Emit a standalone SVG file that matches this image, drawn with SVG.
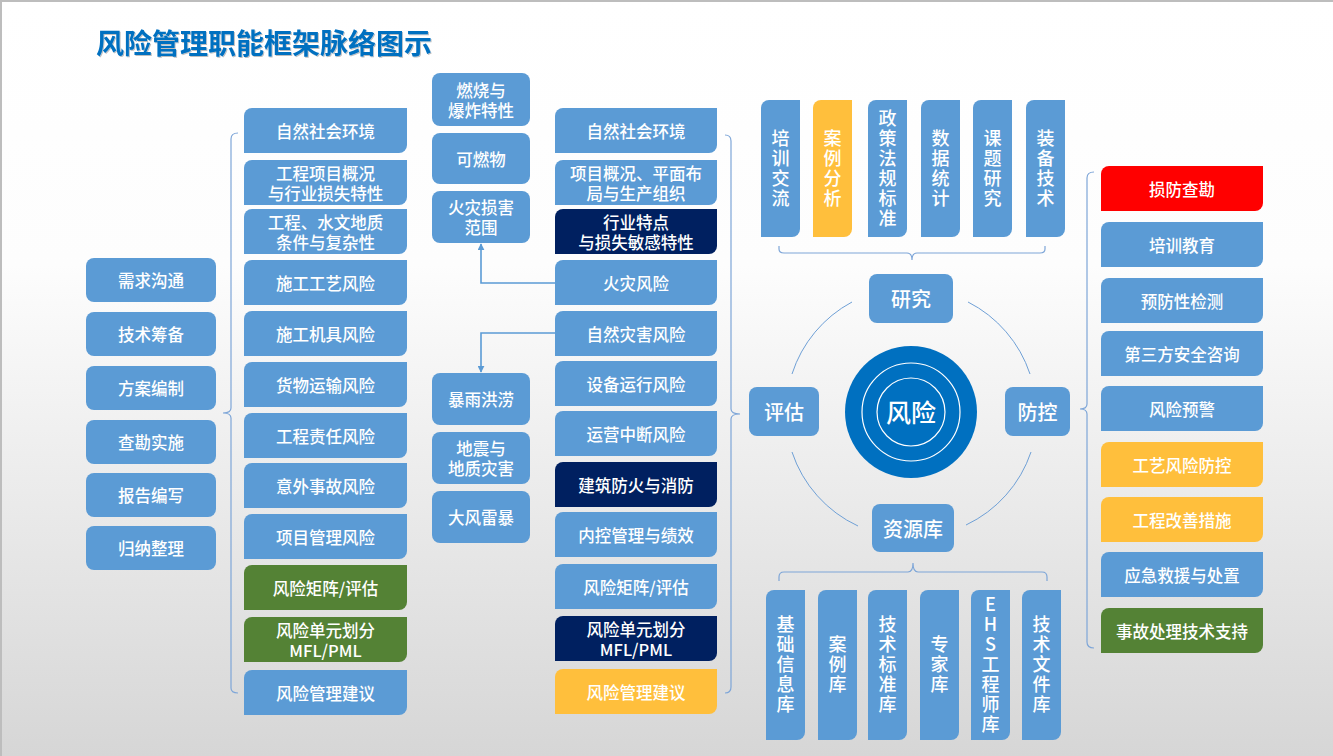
<svg xmlns="http://www.w3.org/2000/svg" width="1333" height="756" viewBox="0 0 1333 756">
<defs>
<linearGradient id="bg" x1="0" y1="0" x2="0" y2="1">
<stop offset="0" stop-color="#ffffff"/>
<stop offset="0.35" stop-color="#fdfdfd"/>
<stop offset="1" stop-color="#d6d6d6"/>
</linearGradient>
<marker id="ah" viewBox="0 0 10 10" refX="9" refY="5" markerWidth="7" markerHeight="7" orient="auto" markerUnits="userSpaceOnUse">
<path d="M0,0 L10,5 L0,10 Z" fill="#5B9BD5"/>
</marker>
<filter id="sh" x="-5%" y="-20%" width="110%" height="140%">
<feDropShadow dx="1" dy="1" stdDeviation="0.6" flood-color="#000" flood-opacity="0.25"/>
</filter>
</defs>
<style>
.b{fill:#5B9BD5}.n{fill:#002060}.g{fill:#548235}.y{fill:#FFBF3C}.r{fill:#FF0000}.c{fill:#0070C0}
.t{font-family:"Noto Sans CJK SC","Noto Sans",sans-serif;font-size:16.5px;fill:#ffffff;text-anchor:middle;dominant-baseline:central;font-weight:500}
.v{font-size:18px;writing-mode:vertical-rl;text-orientation:upright;letter-spacing:2px}
.m{font-size:20px}
.big{font-size:25px}
.br{fill:none;stroke:#7EA6D8;stroke-width:1.2}
.ar{fill:none;stroke:#6FA0D6;stroke-width:1}
.cn{fill:none;stroke:#5B9BD5;stroke-width:1.6}
</style>
<rect x="0" y="0" width="1333" height="756" fill="url(#bg)"/>
<path d="M0,1 H1333 M1,0 V756" stroke="#bdbdbd" stroke-width="2" fill="none"/>
<text x="96" y="54" font-family="Noto Sans CJK SC,sans-serif" font-size="28" font-weight="bold" fill="#0070C0" filter="url(#sh)">风险管理职能框架脉络图示</text>

<g id="connectors">
<path class="br" d="M238,133 Q231,133 231,139 V408 Q231,413 223,413 Q231,413 231,418 V688 Q231,693 238,693"/>
<path class="br" d="M725,135 Q731,135 731,141 V409 Q731,414 740,414 Q731,414 731,419 V687 Q731,693 725,693"/>
<path class="br" d="M1094,172 Q1087,172 1087,178 V404 Q1087,409 1080,409 Q1087,409 1087,414 V642 Q1087,648 1094,648"/>
<path class="br" d="M779,246 V249 Q779,253 784,253 H907 Q912,253 912,260 Q912,253 917,253 H1040 Q1045,253 1045,249 V246"/>
<path class="br" d="M779,581 V577 Q779,572 784,572 H908 Q913,572 913,563 Q913,572 918,572 H1042 Q1047,572 1047,577 V581"/>
<path class="cn" d="M555,283 H481 V244" marker-end="url(#ah)"/>
<path class="cn" d="M555,333 H481 V372" marker-end="url(#ah)"/>
<path class="ar" d="M852,302 A125,125 0 0 0 792,374"/>
<path class="ar" d="M968,302 A125,125 0 0 1 1030,374"/>
<path class="ar" d="M792,452 A125,125 0 0 0 858,526"/>
<path class="ar" d="M1031,452 A125,125 0 0 1 966,525"/>
</g>

<!-- column 1 -->
<g id="n-xqgt"><rect class="b" x="86" y="258" width="130" height="44" rx="8"/><text class="t" x="151" y="280">需求沟通</text></g>
<g id="n-jscb"><rect class="b" x="86" y="312" width="130" height="44" rx="8"/><text class="t" x="151" y="334">技术筹备</text></g>
<g id="n-fabz"><rect class="b" x="86" y="366" width="130" height="44" rx="8"/><text class="t" x="151" y="388">方案编制</text></g>
<g id="n-cksh"><rect class="b" x="86" y="420" width="130" height="44" rx="8"/><text class="t" x="151" y="442">查勘实施</text></g>
<g id="n-bgbx"><rect class="b" x="86" y="473" width="130" height="44" rx="8"/><text class="t" x="151" y="495">报告编写</text></g>
<g id="n-gnzl"><rect class="b" x="86" y="526" width="130" height="44" rx="8"/><text class="t" x="151" y="548">归纳整理</text></g>

<!-- column 2 -->
<g id="n-c2-1"><path class="b" d="M252,108 H407 V145 A8 8 0 0 1 399,153 H244 V116 A8 8 0 0 1 252,108 Z"/><text class="t" x="325.5" y="130.5">自然社会环境</text></g>
<g id="n-c2-2"><path class="b" d="M252,160 H407 V197 A8 8 0 0 1 399,205 H244 V168 A8 8 0 0 1 252,160 Z"/><text class="t" x="325.5" y="172.5">工程项目概况</text><text class="t" x="325.5" y="192.5">与行业损失特性</text></g>
<g id="n-c2-3"><path class="b" d="M252,209 H407 V246 A8 8 0 0 1 399,254 H244 V217 A8 8 0 0 1 252,209 Z"/><text class="t" x="325.5" y="221.5">工程、水文地质</text><text class="t" x="325.5" y="241.5">条件与复杂性</text></g>
<g id="n-c2-4"><path class="b" d="M252,260 H407 V297 A8 8 0 0 1 399,305 H244 V268 A8 8 0 0 1 252,260 Z"/><text class="t" x="325.5" y="282.5">施工工艺风险</text></g>
<g id="n-c2-5"><path class="b" d="M252,311 H407 V348 A8 8 0 0 1 399,356 H244 V319 A8 8 0 0 1 252,311 Z"/><text class="t" x="325.5" y="333.5">施工机具风险</text></g>
<g id="n-c2-6"><path class="b" d="M252,362 H407 V399 A8 8 0 0 1 399,407 H244 V370 A8 8 0 0 1 252,362 Z"/><text class="t" x="325.5" y="384.5">货物运输风险</text></g>
<g id="n-c2-7"><path class="b" d="M252,413 H407 V450 A8 8 0 0 1 399,458 H244 V421 A8 8 0 0 1 252,413 Z"/><text class="t" x="325.5" y="435.5">工程责任风险</text></g>
<g id="n-c2-8"><path class="b" d="M252,463 H407 V500 A8 8 0 0 1 399,508 H244 V471 A8 8 0 0 1 252,463 Z"/><text class="t" x="325.5" y="485.5">意外事故风险</text></g>
<g id="n-c2-9"><path class="b" d="M252,514 H407 V551 A8 8 0 0 1 399,559 H244 V522 A8 8 0 0 1 252,514 Z"/><text class="t" x="325.5" y="536.5">项目管理风险</text></g>
<g id="n-c2-10"><path class="g" d="M252,565 H407 V602 A8 8 0 0 1 399,610 H244 V573 A8 8 0 0 1 252,565 Z"/><text class="t" x="325.5" y="587.5">风险矩阵/评估</text></g>
<g id="n-c2-11"><path class="g" d="M252,617 H407 V654 A8 8 0 0 1 399,662 H244 V625 A8 8 0 0 1 252,617 Z"/><text class="t" x="325.5" y="629.5">风险单元划分</text><text class="t" x="325.5" y="649.5">MFL/PML</text></g>
<g id="n-c2-12"><path class="b" d="M252,670 H407 V707 A8 8 0 0 1 399,715 H244 V678 A8 8 0 0 1 252,670 Z"/><text class="t" x="325.5" y="692.5">风险管理建议</text></g>

<!-- column 3 -->
<g id="n-rsbz"><rect class="b" x="432" y="73" width="98" height="53" rx="8"/><text class="t" x="481" y="90">燃烧与</text><text class="t" x="481" y="110">爆炸特性</text></g>
<g id="n-krw"><rect class="b" x="432" y="133" width="98" height="51" rx="8"/><text class="t" x="481" y="158.5">可燃物</text></g>
<g id="n-hzsh"><rect class="b" x="432" y="191" width="98" height="52" rx="8"/><text class="t" x="481" y="207">火灾损害</text><text class="t" x="481" y="227">范围</text></g>
<g id="n-byhl"><rect class="b" x="432" y="373" width="98" height="52" rx="8"/><text class="t" x="481" y="399">暴雨洪涝</text></g>
<g id="n-dzdz"><rect class="b" x="432" y="432" width="98" height="52" rx="8"/><text class="t" x="481" y="448">地震与</text><text class="t" x="481" y="468">地质灾害</text></g>
<g id="n-dflb"><rect class="b" x="432" y="491" width="98" height="52" rx="8"/><text class="t" x="481" y="517">大风雷暴</text></g>

<!-- column 4 -->
<g id="n-c4-1"><path class="b" d="M563,108 H717 V145 A8 8 0 0 1 709,153 H555 V116 A8 8 0 0 1 563,108 Z"/><text class="t" x="636" y="130.5">自然社会环境</text></g>
<g id="n-c4-2"><path class="b" d="M563,160 H717 V197 A8 8 0 0 1 709,205 H555 V168 A8 8 0 0 1 563,160 Z"/><text class="t" x="636" y="172.5">项目概况、平面布</text><text class="t" x="636" y="192.5">局与生产组织</text></g>
<g id="n-c4-3"><path class="n" d="M563,209 H717 V246 A8 8 0 0 1 709,254 H555 V217 A8 8 0 0 1 563,209 Z"/><text class="t" x="636" y="221.5">行业特点</text><text class="t" x="636" y="241.5">与损失敏感特性</text></g>
<g id="n-c4-4"><path class="b" d="M563,260 H717 V297 A8 8 0 0 1 709,305 H555 V268 A8 8 0 0 1 563,260 Z"/><text class="t" x="636" y="282.5">火灾风险</text></g>
<g id="n-c4-5"><path class="b" d="M563,311 H717 V348 A8 8 0 0 1 709,356 H555 V319 A8 8 0 0 1 563,311 Z"/><text class="t" x="636" y="333.5">自然灾害风险</text></g>
<g id="n-c4-6"><path class="b" d="M563,361 H717 V398 A8 8 0 0 1 709,406 H555 V369 A8 8 0 0 1 563,361 Z"/><text class="t" x="636" y="383.5">设备运行风险</text></g>
<g id="n-c4-7"><path class="b" d="M563,411 H717 V448 A8 8 0 0 1 709,456 H555 V419 A8 8 0 0 1 563,411 Z"/><text class="t" x="636" y="433.5">运营中断风险</text></g>
<g id="n-c4-8"><path class="n" d="M563,462 H717 V499 A8 8 0 0 1 709,507 H555 V470 A8 8 0 0 1 563,462 Z"/><text class="t" x="636" y="484.5">建筑防火与消防</text></g>
<g id="n-c4-9"><path class="b" d="M563,512 H717 V549 A8 8 0 0 1 709,557 H555 V520 A8 8 0 0 1 563,512 Z"/><text class="t" x="636" y="534.5">内控管理与绩效</text></g>
<g id="n-c4-10"><path class="b" d="M563,564 H717 V601 A8 8 0 0 1 709,609 H555 V572 A8 8 0 0 1 563,564 Z"/><text class="t" x="636" y="586.5">风险矩阵/评估</text></g>
<g id="n-c4-11"><path class="n" d="M563,616 H717 V653 A8 8 0 0 1 709,661 H555 V624 A8 8 0 0 1 563,616 Z"/><text class="t" x="636" y="628.5">风险单元划分</text><text class="t" x="636" y="648.5">MFL/PML</text></g>
<g id="n-c4-12"><path class="y" d="M563,669 H717 V706 A8 8 0 0 1 709,714 H555 V677 A8 8 0 0 1 563,669 Z"/><text class="t" x="636" y="691.5">风险管理建议</text></g>

<!-- top verticals -->
<g id="n-pxjl"><path class="b" d="M769,100 H800 V229 A8 8 0 0 1 792,237 H761 V108 A8 8 0 0 1 769,100 Z"/><text class="t v" x="780.5" y="169">培训交流</text></g>
<g id="n-alfx"><path class="y" d="M821,100 H852 V229 A8 8 0 0 1 844,237 H813 V108 A8 8 0 0 1 821,100 Z"/><text class="t v" x="832.5" y="169">案例分析</text></g>
<g id="n-zcfg"><path class="b" d="M876,100 H907 V229 A8 8 0 0 1 899,237 H868 V108 A8 8 0 0 1 876,100 Z"/><text class="t v" x="887.5" y="169">政策法规标准</text></g>
<g id="n-sjtj"><path class="b" d="M929,100 H960 V229 A8 8 0 0 1 952,237 H921 V108 A8 8 0 0 1 929,100 Z"/><text class="t v" x="940.5" y="169">数据统计</text></g>
<g id="n-ktyj"><path class="b" d="M981,100 H1012 V229 A8 8 0 0 1 1004,237 H973 V108 A8 8 0 0 1 981,100 Z"/><text class="t v" x="992.5" y="169">课题研究</text></g>
<g id="n-zbjs"><path class="b" d="M1034,100 H1065 V229 A8 8 0 0 1 1057,237 H1026 V108 A8 8 0 0 1 1034,100 Z"/><text class="t v" x="1045.5" y="169">装备技术</text></g>

<!-- center -->
<g id="n-yj"><rect class="b" x="869" y="274" width="84" height="49" rx="8"/><text class="t m" x="911" y="298.5">研究</text></g>
<g id="n-pg"><rect class="b" x="749" y="387" width="70" height="49" rx="8"/><text class="t m" x="784" y="411.5">评估</text></g>
<g id="n-fk"><rect class="b" x="1005" y="387" width="65" height="49" rx="8"/><text class="t m" x="1037.5" y="411.5">防控</text></g>
<g id="n-zyk"><rect class="b" x="872" y="504" width="82" height="48" rx="8"/><text class="t m" x="913" y="528">资源库</text></g>
<g id="n-fx"><circle class="c" cx="911" cy="412" r="66"/><circle cx="911" cy="412" r="49" fill="none" stroke="#ffffff" stroke-width="1.2"/><circle cx="911" cy="412" r="34" fill="none" stroke="#ffffff" stroke-width="1.2"/><text class="t big" x="911" y="411">风险</text></g>

<!-- bottom verticals -->
<g id="n-jcxx"><path class="b" d="M774,590 H805 V732 A8 8 0 0 1 797,740 H766 V598 A8 8 0 0 1 774,590 Z"/><text class="t v" x="785.5" y="665">基础信息库</text></g>
<g id="n-alk"><path class="b" d="M826,590 H857 V732 A8 8 0 0 1 849,740 H818 V598 A8 8 0 0 1 826,590 Z"/><text class="t v" x="837.5" y="665">案例库</text></g>
<g id="n-jsbz"><path class="b" d="M876,590 H907 V732 A8 8 0 0 1 899,740 H868 V598 A8 8 0 0 1 876,590 Z"/><text class="t v" x="887.5" y="665">技术标准库</text></g>
<g id="n-zjk"><path class="b" d="M928,590 H959 V732 A8 8 0 0 1 951,740 H920 V598 A8 8 0 0 1 928,590 Z"/><text class="t v" x="939.5" y="665">专家库</text></g>
<g id="n-ehs"><path class="b" d="M979,590 H1010 V732 A8 8 0 0 1 1002,740 H971 V598 A8 8 0 0 1 979,590 Z"/><text class="t v" x="990.5" y="665">EHS工程师库</text></g>
<g id="n-jswj"><path class="b" d="M1030,590 H1061 V732 A8 8 0 0 1 1053,740 H1022 V598 A8 8 0 0 1 1030,590 Z"/><text class="t v" x="1041.5" y="665">技术文件库</text></g>

<!-- right column -->
<g id="n-r1"><path class="r" d="M1109,166 H1263 V203 A8 8 0 0 1 1255,211 H1101 V174 A8 8 0 0 1 1109,166 Z"/><text class="t" x="1182" y="188.5">损防查勘</text></g>
<g id="n-r2"><path class="b" d="M1109,222 H1263 V259 A8 8 0 0 1 1255,267 H1101 V230 A8 8 0 0 1 1109,222 Z"/><text class="t" x="1182" y="244.5">培训教育</text></g>
<g id="n-r3"><path class="b" d="M1109,278 H1263 V315 A8 8 0 0 1 1255,323 H1101 V286 A8 8 0 0 1 1109,278 Z"/><text class="t" x="1182" y="300.5">预防性检测</text></g>
<g id="n-r4"><path class="b" d="M1109,331 H1263 V368 A8 8 0 0 1 1255,376 H1101 V339 A8 8 0 0 1 1109,331 Z"/><text class="t" x="1182" y="353.5">第三方安全咨询</text></g>
<g id="n-r5"><path class="b" d="M1109,386 H1263 V423 A8 8 0 0 1 1255,431 H1101 V394 A8 8 0 0 1 1109,386 Z"/><text class="t" x="1182" y="408.5">风险预警</text></g>
<g id="n-r6"><path class="y" d="M1109,442 H1263 V479 A8 8 0 0 1 1255,487 H1101 V450 A8 8 0 0 1 1109,442 Z"/><text class="t" x="1182" y="464.5">工艺风险防控</text></g>
<g id="n-r7"><path class="y" d="M1109,497 H1263 V534 A8 8 0 0 1 1255,542 H1101 V505 A8 8 0 0 1 1109,497 Z"/><text class="t" x="1182" y="519.5">工程改善措施</text></g>
<g id="n-r8"><path class="b" d="M1109,552 H1263 V589 A8 8 0 0 1 1255,597 H1101 V560 A8 8 0 0 1 1109,552 Z"/><text class="t" x="1182" y="574.5">应急救援与处置</text></g>
<g id="n-r9"><path class="g" d="M1109,608 H1263 V645 A8 8 0 0 1 1255,653 H1101 V616 A8 8 0 0 1 1109,608 Z"/><text class="t" x="1182" y="630.5">事故处理技术支持</text></g>
</svg>
